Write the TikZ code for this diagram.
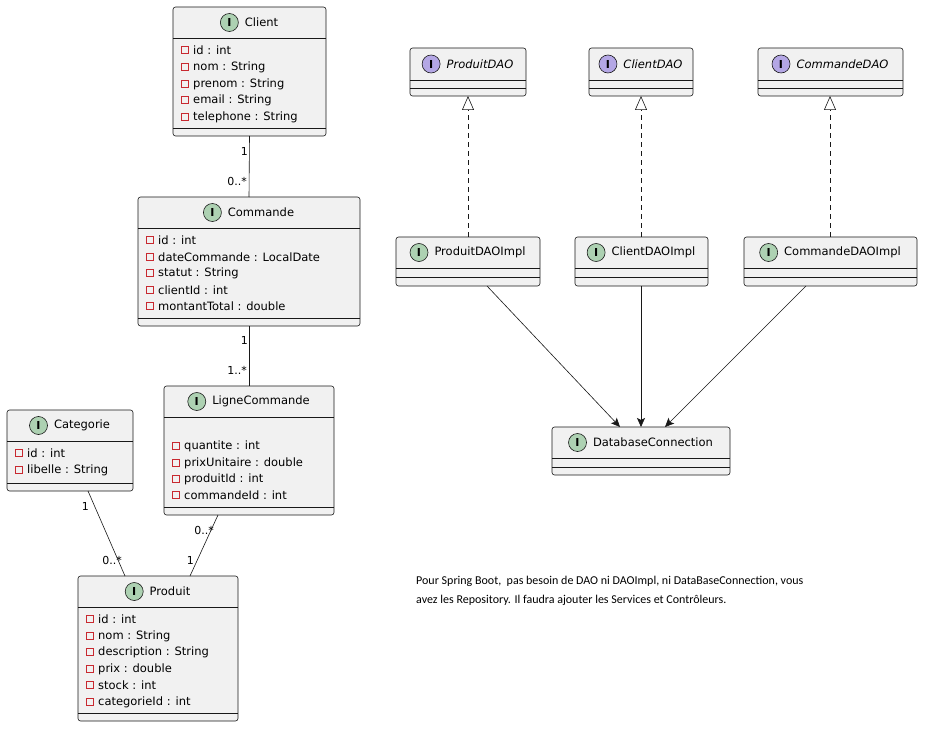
\documentclass[tikz,border=0pt]{standalone}
\usepackage{fontspec}
\setmainfont{DejaVu Sans}
\newfontfamily\notefont{Carlito}
\usetikzlibrary{arrows.meta}
\definecolor{boxfill}{HTML}{F1F1F1}
\definecolor{boxline}{HTML}{181818}
\definecolor{cgreen}{HTML}{ADD1B2}
\definecolor{ipurple}{HTML}{B4A7E5}
\definecolor{attrred}{HTML}{C82930}
\tikzset{
  box/.style={draw=boxline,fill=boxfill,rounded corners=2.5pt,line width=0.6pt},
  sepl/.style={draw=boxline,line width=0.6pt},
  txt/.style={inner sep=0pt,font=\fontsize{11.5}{13}\selectfont},
  attr/.style={txt,anchor=west},
  ico/.style={circle,draw=boxline,line width=0.6pt,minimum size=18pt,inner sep=0pt,font=\fontsize{11}{12}\selectfont\bfseries},
  assoc/.style={draw=boxline,line width=0.6pt},
  mult/.style={inner sep=0pt,font=\fontsize{11}{13}\selectfont},
  dep/.style={draw=boxline,line width=0.6pt,-{Stealth[length=9pt,width=8pt,inset=2pt]}},
  real/.style={draw=boxline,line width=0.6pt,dashed,dash pattern=on 5pt off 4pt,-{Triangle[open,length=14pt,width=12pt,fill=white]}}
}
% #1 name #2 x1 #3 y1 #4 x2 #5 y2 #6 sep1 #7 sep2 #8 icon colour #9 title (formatted)
\newcommand\uclass[9]{%
  \path[box] (#2,#3) rectangle (#4,#5);
  \coordinate (#1-n) at ({(#2+#4)/2},#3);
  \coordinate (#1-s) at ({(#2+#4)/2},#5);
  \draw[sepl] (#2,#6) -- (#4,#6);
  \draw[sepl] (#2,#7) -- (#4,#7);
  \node[txt] (#1-t) at ({(#2+#4)/2+12},{(#3+#6)/2}) {#9};
  \node[ico,fill=#8,left=6pt of #1-t.west,anchor=east] (#1-i) {\ifx#8cgreen C\else I\fi};
}
\newcommand\uattr[3]{%
  \draw[attrred,line width=0.6pt] (#1+5,#2-3.5) rectangle (#1+12,#2+3.5);
  \node[attr] at (#1+17,#2) {#3};
}
\usetikzlibrary{positioning}
\begin{document}
\begin{tikzpicture}[x=1pt,y=-1pt]
\useasboundingbox[fill=white] (0,0) rectangle (931,735);
% Client
\uclass{cli}{173}{7}{326}{136}{38}{128}{cgreen}{Client}
\uattr{176}{50}{id : int}
\uattr{176}{67}{nom : String}
\uattr{176}{84}{prenom : String}
\uattr{176}{100}{email : String}
\uattr{176}{117}{telephone : String}
% Commande
\uclass{com}{138}{197}{360}{326}{228}{318}{cgreen}{Commande}
\uattr{141}{240}{id : int}
\uattr{141}{257}{dateCommande : LocalDate}
\uattr{141}{273}{statut : String}
\uattr{141}{290}{clientId : int}
\uattr{141}{306}{montantTotal : double}
% LigneCommande
\uclass{lig}{164}{386}{334}{515}{417}{507}{cgreen}{LigneCommande}
\uattr{167}{446}{quantite : int}
\uattr{167}{463}{prixUnitaire : double}
\uattr{167}{479}{produitId : int}
\uattr{167}{495}{commandeId : int}
% Categorie
\uclass{cat}{7}{410}{133}{491}{441}{483}{cgreen}{Categorie}
\uattr{10}{453}{id : int}
\uattr{10}{470}{libelle : String}
% Produit
\uclass{pro}{78}{576}{238}{721}{607}{713}{cgreen}{Produit}
\uattr{81}{619}{id : int}
\uattr{81}{636}{nom : String}
\uattr{81}{652}{description : String}
\uattr{81}{669}{prix : double}
\uattr{81}{685}{stock : int}
\uattr{81}{702}{categorieId : int}
% interfaces
\uclass{pdao}{410}{48}{526}{96}{80}{88}{ipurple}{\itshape ProduitDAO}
\uclass{cdao}{589}{48}{693}{96}{80}{88}{ipurple}{\itshape ClientDAO}
\uclass{mdao}{758}{48}{903}{96}{80}{88}{ipurple}{\itshape CommandeDAO}
% impls
\uclass{pimp}{396}{237}{540}{286}{268}{277}{cgreen}{ProduitDAOImpl}
\uclass{cimp}{575}{237}{708}{286}{268}{277}{cgreen}{ClientDAOImpl}
\uclass{mimp}{744}{237}{917}{286}{268}{277}{cgreen}{CommandeDAOImpl}
\uclass{db}{552}{427}{730}{475}{458}{467}{cgreen}{DatabaseConnection}
% associations
\draw[assoc] (cli-s) -- (com-n);
\node[mult,anchor=east] at (248,151) {1};
\node[mult,anchor=east] at (247,181) {0..*};
\draw[assoc] (com-s) -- (lig-n);
\node[mult,anchor=east] at (248,340) {1};
\node[mult,anchor=east] at (247,370) {1..*};
\coordinate (catb) at (88,491);
\coordinate (prot1) at (125,576);
\draw[assoc] (catb) -- (prot1);
\node[mult,anchor=east] at (89,506) {1};
\node[mult,anchor=east] at (122,560) {0..*};
\coordinate (ligb) at (218,515);
\coordinate (prot2) at (190,576);
\draw[assoc] (ligb) -- (prot2);
\node[mult,anchor=east] at (214,530) {0..*};
\node[mult,anchor=east] at (194,560) {1};
% realizations
\coordinate (pimpt) at (468,237); \coordinate (pdaob) at (468,96);
\coordinate (cimpt) at (641,237); \coordinate (cdaob) at (641,96);
\coordinate (mimpt) at (830,237); \coordinate (mdaob) at (830,96);
\draw[real] (pimpt) -- (pdaob);
\draw[real] (cimpt) -- (cdaob);
\draw[real] (mimpt) -- (mdaob);
% dependencies
\coordinate (pimpb) at (487,286); \coordinate (dbp) at (620,427);
\coordinate (cimpb) at (641,286); \coordinate (dbc) at (641,427);
\coordinate (mimpb) at (806,286); \coordinate (dbm) at (665,427);
\draw[dep] (pimpb) -- (dbp);
\draw[dep] (cimpb) -- (dbc);
\draw[dep] (mimpb) -- (dbm);
% note
\node[anchor=north west,align=left,inner sep=0pt,font=\notefont\fontsize{12}{19}\selectfont] (note) at (416,576)
 {Pour Spring Boot,\ \ pas besoin de DAO ni DAOImpl, ni DataBaseConnection, vous\\avez les Repository. Il faudra ajouter les Services et Contrôleurs.};
\end{tikzpicture}
\end{document}
